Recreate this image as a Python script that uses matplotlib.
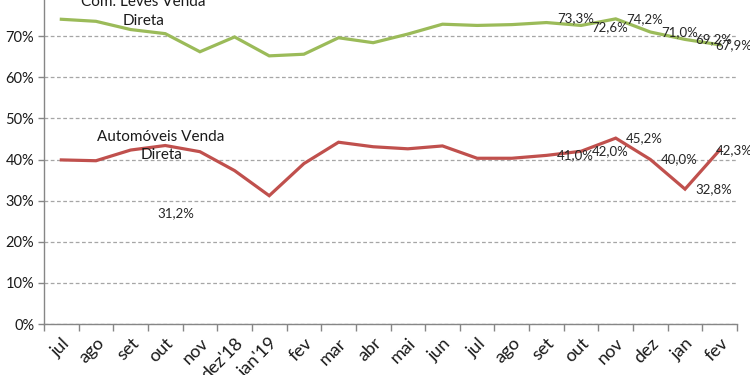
import matplotlib
matplotlib.use("Agg")
import matplotlib.pyplot as plt
from matplotlib.ticker import FuncFormatter, MultipleLocator

months = ["jul", "ago", "set", "out", "nov", "dez'18", "jan'19", "fev", "mar", "abr",
          "mai", "jun", "jul", "ago", "set", "out", "nov", "dez", "jan", "fev"]
com_leves = [74.1, 73.6, 71.6, 70.6, 66.2, 69.8, 65.2, 65.6, 69.6, 68.4,
             70.5, 72.9, 72.6, 72.8, 73.3, 72.6, 74.2, 71.0, 69.2, 67.9]
automoveis = [39.9, 39.7, 42.3, 43.4, 41.9, 37.3, 31.2, 39.0, 44.2, 43.1,
              42.6, 43.3, 40.3, 40.3, 41.0, 42.0, 45.2, 40.0, 32.8, 42.3]
# indices of labelled points
green_labelled = [14, 15, 16, 17, 18, 19]
red_labelled = [6, 14, 15, 16, 17, 18, 19]

plt.rcParams['font.family'] = ['Lato', 'DejaVu Sans']

fig = plt.figure(figsize=(7.5, 3.75), dpi=100)
ax = fig.add_axes([44/750, 1 - 324/375, (737-44)/750, 329/375])

x = list(range(len(months)))
green = "#9BBB59"
red = "#C0504D"
ax.plot(x, com_leves, color=green, lw=2.3, solid_joinstyle='miter', zorder=3)
ax.plot(x, automoveis, color=red, lw=2.3, solid_joinstyle='miter', zorder=3)

ax.set_xlim(-0.5, len(months) - 0.5)
ax.set_ylim(0, 80)
ax.yaxis.set_major_locator(MultipleLocator(10))
ax.yaxis.set_major_formatter(FuncFormatter(lambda v, p: f"{int(v)}%"))
ax.grid(axis='y', color='#A6A6A6', linestyle=(0, (3, 2)), lw=0.9, zorder=1)

for s in ['top', 'right']:
    ax.spines[s].set_visible(False)
for s in ['left', 'bottom']:
    ax.spines[s].set_color('#868686')
    ax.spines[s].set_linewidth(1.0)

ax.set_xticks(x)
ax.set_xticklabels(months, rotation=45, ha='right', rotation_mode='anchor', fontsize=13,
                   color='#1a1a1a')
ax.tick_params(axis='x', which='major', length=0, pad=8)
ax.set_xticks([i - 0.5 for i in range(len(months) + 1)], minor=True)
ax.tick_params(axis='x', which='minor', length=5, color='#868686', width=1.0)
ax.tick_params(axis='y', length=4, color='#868686', width=1.0, labelsize=10.5, pad=3,
               labelcolor='#1a1a1a')

def fmt(v):
    return f"{v:.1f}%".replace('.', ',')

lab_fs = 9.5
for i in green_labelled:
    v = com_leves[i]
    dx, dy = 7.5, 0
    if i == 14:
        dy = 3.5
    if i == 15:
        dy = -1
    if i == len(months) - 1:
        dx = -3
    ax.annotate(fmt(v), (i, v), xytext=(dx, dy), textcoords='offset points',
                ha='left', va='center', fontsize=lab_fs, color='#262626', zorder=4)
for i in red_labelled:
    v = automoveis[i]
    dx, dy = 7.5, 0
    ha = 'left'
    if i == 6:
        dx, dy, ha = -67, -12.5, 'center'
    if i == len(months) - 1:
        dx = -3
    ax.annotate(fmt(v), (i, v), xytext=(dx, dy), textcoords='offset points',
                ha=ha, va='center', fontsize=lab_fs, color='#262626', zorder=4)

# series name labels
ax.annotate("Com. Leves Venda\nDireta", (2.36, com_leves[2]), xytext=(0, 13),
            textcoords='offset points', ha='center', va='center',
            fontsize=11, color='#1a1a1a', linespacing=1.4, zorder=4)
ax.annotate("Automóveis Venda\nDireta", (2.88, automoveis[3]), xytext=(0, -0.5),
            textcoords='offset points', ha='center', va='center',
            fontsize=11, color='#1a1a1a', linespacing=1.4, zorder=4)

fig.savefig("out.png", dpi=100)
